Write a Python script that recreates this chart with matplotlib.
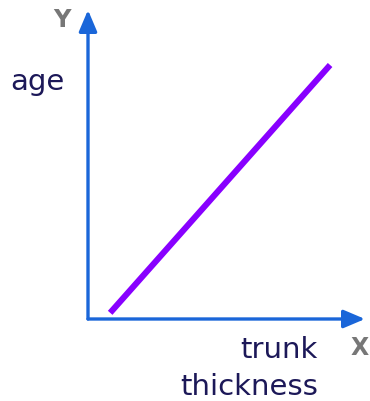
import matplotlib
matplotlib.use("Agg")
import matplotlib.pyplot as plt

# Data (conceptual: trunk thickness vs age, normalised)
trunk_thickness = [0.08, 0.874]
age = [0.02, 0.822]
x_label_lines = ["trunk", "thickness"]
y_label = "age"

W, H = 370, 401
fig = plt.figure(figsize=(W / 100, H / 100), dpi=100)
# axes origin at pixel (88, 319)
left, bottom = 88 / W, (H - 319) / H
ax = fig.add_axes([left, bottom, 277 / W, 309 / H])
ax.set_xlim(0, 1)
ax.set_ylim(0, 1)
ax.axis("off")

axis_color = "#1a66d9"
line_color = "#8800ff"
text_color = "#1c1858"
letter_color = "#777777"

ax.plot(trunk_thickness, age, color=line_color, lw=4.4, solid_capstyle="butt")

arrow = dict(arrowstyle="-|>,head_length=1.3,head_width=0.55", color=axis_color,
             lw=2.4, shrinkA=0, shrinkB=0)
ax.annotate("", xy=(0, 1.0), xytext=(0, 0), xycoords="axes fraction", arrowprops=arrow)
ax.annotate("", xy=(1.0, 0), xytext=(0, 0), xycoords="axes fraction", arrowprops=arrow)

font = "DejaVu Sans"
fs = 21
fig.text(64 / W, 1 - 90 / H, y_label, ha="right", va="baseline", fontsize=fs,
         color=text_color, family=font)
fig.text(318 / W, 1 - 358 / H, x_label_lines[0], ha="right", va="baseline", fontsize=fs,
         color=text_color, family=font)
fig.text(318 / W, 1 - 395 / H, x_label_lines[1], ha="right", va="baseline", fontsize=fs,
         color=text_color, family=font)
fig.text(62 / W, 1 - 27 / H, "Y", ha="center", va="baseline", fontsize=17.5,
         color=letter_color, family=font, weight="bold")
fig.text(360 / W, 1 - 355 / H, "X", ha="center", va="baseline", fontsize=17,
         color=letter_color, family=font, weight="bold")

fig.savefig("out.png", dpi=100)
